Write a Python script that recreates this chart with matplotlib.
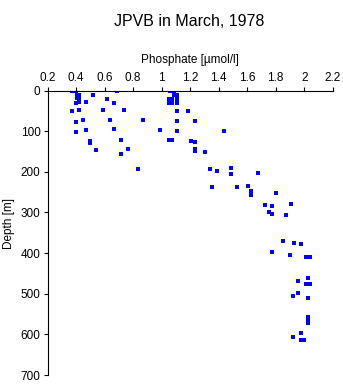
import matplotlib
matplotlib.use("Agg")
import matplotlib.pyplot as plt

# phosphate [umol/l] and depth [m]
phosphate = [0.37, 0.40, 0.69, 1.06, 1.09,
             0.405, 0.423, 0.521, 1.09, 1.11,
             0.405, 0.423, 0.619, 1.05, 1.07, 1.11,
             0.40, 0.423, 0.47, 0.668, 1.05, 1.07, 1.11,
             0.37, 0.421, 0.589, 0.739, 1.11, 1.187,
             0.402, 0.451, 0.64, 0.868, 1.108, 1.236,
             0.40, 0.47, 0.668, 0.989, 1.11, 1.438,
             0.50, 0.50, 0.718, 1.05, 1.07, 1.208, 1.236,
             0.542, 0.718, 0.767, 1.236, 1.236, 1.307,
             0.837, 1.337, 1.389, 1.489, 1.489, 1.678,
             1.356, 1.529, 1.608, 1.627, 1.627, 1.804,
             1.727, 1.776, 1.908, 1.755, 1.776, 1.875,
             1.854, 1.927, 1.976, 1.776, 1.903, 2.01, 2.04,
             2.027, 1.957, 2.01, 2.04, 1.957, 1.924, 2.027,
             2.027, 2.027, 2.027, 1.976, 1.924, 1.98, 2.0]
depth = [0, 0, 0, 0, 0,
         10, 10, 10, 10, 10,
         19, 19, 21, 20, 20, 20,
         31, 29, 29, 31, 30, 30, 30,
         51, 49, 49, 49, 50, 50,
         78, 73, 73, 73, 76, 76,
         103, 98, 95, 98, 100, 100,
         124, 129, 122, 122, 122, 125, 127,
         147, 155, 145, 144, 150, 152,
         194, 192, 199, 191, 206, 203,
         238, 238, 234, 248, 256, 253,
         281, 285, 280, 298, 303, 307,
         370, 374, 378, 398, 404, 409, 409,
         462, 469, 476, 476, 497, 506, 511,
         558, 568, 573, 597, 607, 613, 613]

x_ticks = [0.2, 0.4, 0.6, 0.8, 1, 1.2, 1.4, 1.6, 1.8, 2, 2.2]
x_ticklabels = ["0.2", "0.4", "0.6", "0.8", "1", "1.2", "1.4", "1.6", "1.8", "2", "2.2"]
y_ticks = [0, 100, 200, 300, 400, 500, 600, 700]

plt.rcParams['font.family'] = ['Liberation Sans', 'DejaVu Sans']

fig = plt.figure(figsize=(3.43, 3.84), dpi=100)
ax = fig.add_axes([0.1385, 0.0234, 0.8315, 0.7409])

ax.plot(phosphate, depth, 's', color='#0000ff', markersize=2.4, markeredgewidth=0)

ax.set_xlim(0.2, 2.2)
ax.set_ylim(700, 0)
ax.xaxis.tick_top()
ax.set_xticks(x_ticks)
ax.set_xticklabels(x_ticklabels)
ax.set_yticks(y_ticks)
ax.tick_params(direction='out', length=3, width=0.8, labelsize=8.5, pad=2)
for side in ['right', 'bottom']:
    ax.spines[side].set_visible(False)
for side in ['left', 'top']:
    ax.spines[side].set_linewidth(0.8)

fig.text(0.553, 0.943, "JPVB in March, 1978", ha='center', va='center', fontsize=11.5)
fig.text(0.555, 0.844, "Phosphate [µmol/l]", ha='center', va='center', fontsize=8.5)
fig.text(0.025, 0.417, "Depth [m]", ha='center', va='center', rotation=90, fontsize=8.5)

fig.savefig("out.png", dpi=100)
